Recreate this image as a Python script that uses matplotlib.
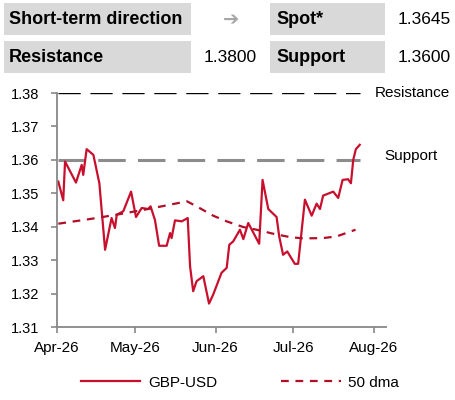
import matplotlib
matplotlib.use("Agg")
import matplotlib.pyplot as plt
from matplotlib.patches import Rectangle

plt.rcParams["font.family"] = ["Liberation Sans", "DejaVu Sans"]

# days counted from 1 Apr 2026
spot_days = [0.5, 2.4, 3.1, 7.3, 9.5, 10.1, 11.4, 14.0, 16.3, 18.5, 21.0, 22.3, 23.0,
             25.5, 28.5, 30.4, 32.6, 35.1, 36.0, 37.7, 39.3, 42.2, 43.5, 44.1, 45.4,
             48.0, 50.3, 51.2, 52.4, 53.7, 56.3, 58.5, 60.1, 63.3, 65.3, 66.3, 67.8,
             70.4, 71.7, 73.6, 77.8, 79.1, 81.3, 84.5, 85.5, 87.0, 88.6, 91.5, 92.8,
             95.4, 98.0, 99.9, 101.2, 102.4, 106.3, 108.2, 109.9, 112.0, 113.1, 114.0,
             115.0, 116.5]
spot_vals = [1.3535, 1.3479, 1.3595, 1.3532, 1.3585, 1.3555, 1.3632, 1.3615, 1.3530,
             1.3331, 1.3426, 1.3396, 1.3436, 1.3446, 1.3505, 1.3429, 1.3456, 1.3453,
             1.3461, 1.3420, 1.3343, 1.3343, 1.3381, 1.3366, 1.3419, 1.3416, 1.3426,
             1.3282, 1.3207, 1.3237, 1.3252, 1.3170, 1.3197, 1.3262, 1.3277, 1.3346,
             1.3356, 1.3391, 1.3363, 1.3411, 1.3349, 1.3540, 1.3453, 1.3429, 1.3371,
             1.3316, 1.3326, 1.3289, 1.3289, 1.3481, 1.3433, 1.3469, 1.3453, 1.3493,
             1.3505, 1.3486, 1.3540, 1.3542, 1.3530, 1.3600, 1.3632, 1.3645]

ma_days = [0.5, 12.7, 23.0, 35.8, 50.0, 53.7, 60.1, 65.3, 71.7, 76.8, 83.2, 89.6,
           94.7, 102.4, 107.6, 114.9]
ma_vals = [1.3409, 1.3423, 1.3436, 1.3454, 1.3476, 1.3461, 1.3433, 1.3416, 1.3399,
           1.3391, 1.3379, 1.3369, 1.3365, 1.3366, 1.3371, 1.3391]

resistance = 1.38
support = 1.36
spot = 1.3645

tick_days = [0, 30, 61, 91, 122]
tick_labels = ["Apr-26", "May-26", "Jun-26", "Jul-26", "Aug-26"]
y_ticks = [1.31, 1.32, 1.33, 1.34, 1.35, 1.36, 1.37, 1.38]

red = "#C8102E"
ma_red = "#B00F27"
axis_grey = "#888888"
W, H = 456, 400

fig = plt.figure(figsize=(W / 100, H / 100), dpi=100)

# header table
def box(x0, y0, x1, y1):
    fig.add_artist(Rectangle((x0 / W, 1 - y1 / H), (x1 - x0) / W, (y1 - y0) / H,
                             transform=fig.transFigure, facecolor="#D9D9D9",
                             edgecolor="none"))

box(4, 3, 191, 35)
box(270, 3, 385, 35)
box(4, 41, 191, 73)
box(270, 41, 385, 73)

def ftext(x, y, s, **kw):
    fig.text(x / W, 1 - y / H, s, va="center", **kw)

ftext(9, 20, "Short-term direction", fontsize=13, fontweight="bold")
ftext(231, 20, "\u2794", fontsize=14, color="#A6A6A6", ha="center",
      family="DejaVu Sans")
ftext(276, 20, "Spot*", fontsize=13, fontweight="bold")
ftext(451, 20, f"{spot:.4f}", fontsize=12.5, ha="right")
ftext(9, 57, "Resistance", fontsize=13, fontweight="bold")
ftext(257, 57, f"{resistance:.4f}", fontsize=12.5, ha="right")
ftext(276, 57, "Support", fontsize=13, fontweight="bold")
ftext(451, 57, f"{support:.4f}", fontsize=12.5, ha="right")

ax = fig.add_axes([57 / W, 1 - 327 / H, (386 - 57) / W, (327 - 93) / H])

span = [spot_days[0], spot_days[-1]]
ax.plot(span, [resistance, resistance], color="black", lw=1.0,
        dashes=(16, 7), solid_capstyle="butt")
ax.plot(span, [support, support], color="#8C8C8C", lw=2.2, dashes=(9, 4))
ln1, = ax.plot(spot_days, spot_vals, color=red, lw=1.6, label="GBP-USD")
ln2, = ax.plot(ma_days, ma_vals, color=ma_red, lw=1.6, dashes=(3.5, 3),
               label="50 dma")

ax.text(122.3, resistance, "Resistance", fontsize=11, va="center", clip_on=False)
ax.text(125.8, 1.3612, "Support", fontsize=11, va="center", clip_on=False)

ax.set_xlim(0, 126.6)
ax.set_ylim(1.31, 1.38)
ax.set_xticks(tick_days)
ax.set_xticklabels(tick_labels)
ax.set_yticks(y_ticks)
ax.set_yticklabels([f"{v:.2f}" for v in y_ticks])

for side in ["top", "right"]:
    ax.spines[side].set_visible(False)
for side in ["left", "bottom"]:
    ax.spines[side].set_color(axis_grey)
    ax.spines[side].set_linewidth(1.3)
ax.tick_params(axis="y", direction="out", length=4, width=1.2, color=axis_grey,
               labelsize=10.5, pad=9)
ax.tick_params(axis="x", direction="out", length=4, width=1.2, color=axis_grey,
               labelsize=11, pad=6)

fig.legend(handles=[ln1, ln2], loc="center", bbox_to_anchor=(0.526, 0.043),
           ncol=2, frameon=False, fontsize=11, handlelength=3.9,
           handletextpad=0.5, columnspacing=4.2)

fig.savefig("out.png", dpi=100)
